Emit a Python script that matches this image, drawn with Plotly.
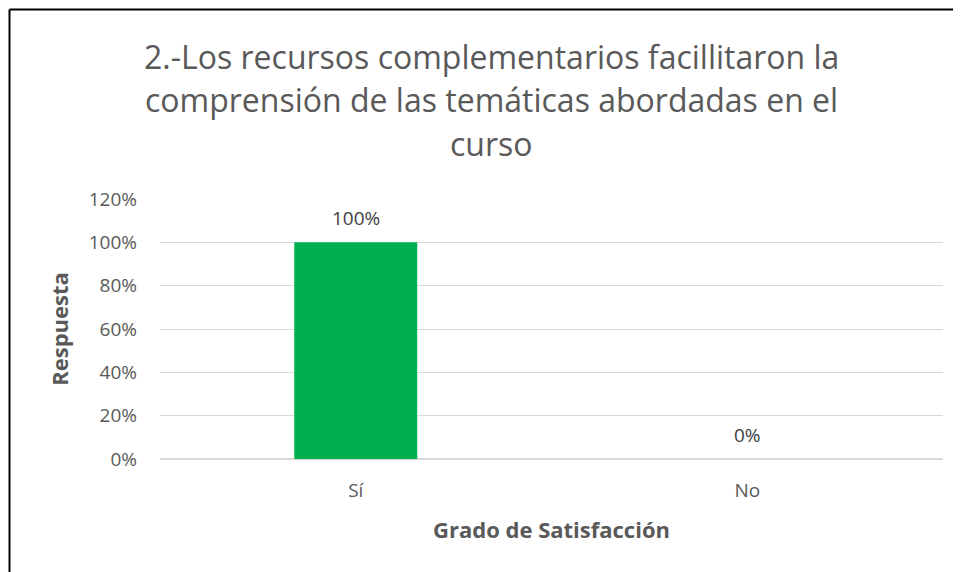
import plotly.graph_objects as go

categorias = ["Sí", "No"]
valores = [1.0, 0.0]
etiquetas = ["100%", "0%"]
lineas_titulo = [
    "2.-Los recursos complementarios facillitaron la",
    "comprensión de las temáticas abordadas en el",
    "curso",
]

FUENTE = "Open Sans"
GRIS = "#595959"

# la página añade 8 px de margen; la figura llega hasta el borde de la ventana
W, H = 953, 564
L, R, T, B = 152, 18, 191, 113
ancho = W - L - R
alto = H - T - B


def px_x(x):
    # píxel horizontal de la figura -> coordenada paper
    return (x - L) / ancho


def px_y(y):
    return (H - B - y) / alto


fig = go.Figure(go.Bar(
    x=categorias,
    y=valores,
    marker=dict(color="#00b050", line=dict(width=0)),
    hoverinfo="x+y",
))

# etiquetas de datos por encima de cada barra
for cat, val, txt in zip(categorias, valores, etiquetas):
    fig.add_annotation(x=cat, y=val, text=txt, showarrow=False,
                       yanchor="middle", yshift=24,
                       font=dict(family=FUENTE, size=19, color="#404040"))

# título en tres líneas
for i, linea in enumerate(lineas_titulo):
    fig.add_annotation(text=linea, xref="paper", yref="paper",
                       x=px_x(483.5), y=px_y(48 + 43.5 * i),
                       xanchor="center", yanchor="middle", showarrow=False,
                       font=dict(family=FUENTE, size=32, color=GRIS))

fig.update_layout(
    width=W, height=H,
    margin=dict(l=L, r=R, t=T, b=B),
    paper_bgcolor="white",
    plot_bgcolor="white",
    bargap=0.686,
    showlegend=False,
    font=dict(family=FUENTE, color=GRIS),
)

fig.update_yaxes(
    range=[0, 1.2],
    dtick=0.2,
    tickformat=".0%",
    showgrid=True,
    gridcolor="#d9d9d9",
    gridwidth=1,
    zeroline=True,
    zerolinecolor="#d9d9d9",
    showline=False,
    ticks="",
    ticklabelstandoff=22,
    tickfont=dict(family=FUENTE, size=19, color=GRIS),
    title=dict(text="<b>Respuesta</b>", standoff=13,
               font=dict(family=FUENTE, size=22, color=GRIS)),
)

fig.update_xaxes(
    showline=False,
    ticks="",
    ticklabelstandoff=18,
    tickfont=dict(family=FUENTE, size=19, color=GRIS),
    title=dict(text="<b>Grado de Satisfacción</b>", standoff=20,
               font=dict(family=FUENTE, size=22, color=GRIS)),
)

# marco del gráfico (arriba e izquierda), sin salirse del lienzo
fig.add_shape(type="line", xref="paper", yref="paper",
              x0=px_x(1.5), x1=px_x(W), y0=px_y(1.5), y1=px_y(1.5),
              line=dict(color="black", width=2))
fig.add_shape(type="line", xref="paper", yref="paper",
              x0=px_x(1.5), x1=px_x(1.5), y0=px_y(1.5), y1=px_y(H),
              line=dict(color="black", width=2))

# sin barras de desplazamiento ni barra de herramientas
fig.write_html(
    "out.html",
    config={"displayModeBar": False},
    post_script="document.documentElement.style.overflow='hidden';"
                "document.body.style.overflow='hidden';",
)
